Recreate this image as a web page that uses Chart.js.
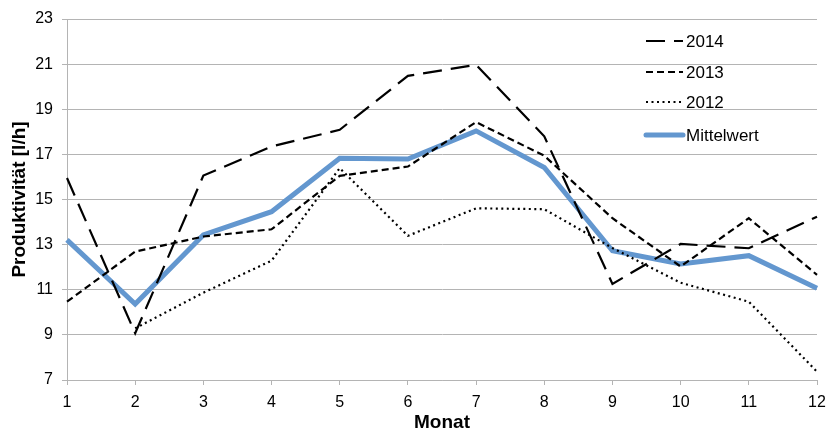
<!DOCTYPE html>
<html>
<head>
<meta charset="utf-8">
<script src="https://cdn.jsdelivr.net/npm/chart.js@4.4.1/dist/chart.umd.min.js"></script>
<style>
  html, body { margin: 0; padding: 0; background: #fff; }
  #wrap { width: 828px; height: 432px; }
</style>
</head>
<body>
<div id="wrap"><canvas id="line-chart-canvas"></canvas></div>
<script>
const months = ['1', '2', '3', '4', '5', '6', '7', '8', '9', '10', '11', '12'];
const values2014 = [15.95, 9.07, 16.06, 17.35, 18.09, 20.48, 20.97, 17.8, 11.26, 13.03, 12.84, 14.24];
const values2013 = [10.47, 12.69, 13.36, 13.68, 16.05, 16.46, 18.43, 16.94, 14.17, 12.03, 14.17, 11.66];
const values2012 = [null, 9.29, 10.87, 12.29, 16.39, 13.39, 14.61, 14.57, 12.85, 11.31, 10.47, 7.37];
const valuesMittel = [13.21, 10.37, 13.43, 14.46, 16.83, 16.79, 18.04, 16.42, 12.73, 12.14, 12.51, 11.07];
const yTicks = [7, 9, 11, 13, 15, 17, 19, 21, 23];

const gridGrey = '#b4b4b4';
const fontName = '"Liberation Sans", Arial, Helvetica, sans-serif';

// legend sits inside the plot, top right, drawn by hand
const insideLegend = {
    id: 'insideLegend',
    afterDraw(chart) {
        const ctx = chart.ctx;
        const rows = [41, 72, 102, 135];
        ctx.save();
        chart.data.datasets.forEach(function(ds, i) {
            const y = rows[i];
            ctx.beginPath();
            ctx.strokeStyle = ds.borderColor;
            ctx.lineWidth = ds.borderWidth;
            ctx.lineCap = ds.borderWidth > 3 ? 'round' : 'butt';
            ctx.setLineDash(ds.borderDash || []);
            ctx.moveTo(646, y);
            ctx.lineTo(683, y);
            ctx.stroke();
            ctx.setLineDash([]);
            ctx.fillStyle = '#000';
            ctx.font = '17px ' + fontName;
            ctx.textAlign = 'left';
            ctx.textBaseline = 'middle';
            ctx.fillText(ds.label, 686, y + 1);
        });
        ctx.restore();
    }
};

function initializeLineChart() {
    const context = document.getElementById('line-chart-canvas');
    const data = {
        labels: months,
        datasets: [
            {
                label: '2014',
                data: values2014,
                borderColor: '#000',
                borderWidth: 2.2,
                borderDash: [19, 9]
            },
            {
                label: '2013',
                data: values2013,
                borderColor: '#000',
                borderWidth: 2.2,
                borderDash: [7, 4]
            },
            {
                label: '2012',
                data: values2012,
                borderColor: '#000',
                borderWidth: 2.2,
                borderDash: [2, 3.5]
            },
            {
                label: 'Mittelwert',
                data: valuesMittel,
                borderColor: '#6397cf',
                borderWidth: 5
            }
        ]
    };
    new Chart(context, {
        type: 'line',
        data: data,
        plugins: [insideLegend],
        options: {
            responsive: true,
            maintainAspectRatio: false,
            animation: false,
            layout: { padding: { top: 19, right: 11, left: 0, bottom: 0 } },
            elements: {
                point: { radius: 0 },
                line: { tension: 0, borderCapStyle: 'butt' }
            },
            plugins: {
                legend: { display: false },
                tooltip: { enabled: false }
            },
            scales: {
                x: {
                    afterFit: function(s) {
                        s.height = 52;
                        s.paddingLeft = 0;
                        s.paddingRight = 0;
                    },
                    grid: { drawOnChartArea: false, drawTicks: true, tickLength: 5, color: gridGrey },
                    border: { color: gridGrey },
                    ticks: { color: '#000', font: { family: fontName, size: 16 }, padding: 8, maxRotation: 0 },
                    title: { display: true, text: 'Monat', color: '#000', font: { family: fontName, size: 19, weight: 'bold', lineHeight: 1.0 }, padding: 0 }
                },
                y: {
                    min: 7,
                    max: 23,
                    afterFit: function(s) { s.width = 67; },
                    afterBuildTicks: function(s) { s.ticks = yTicks.map(v => ({ value: v })); },
                    grid: { color: gridGrey, tickLength: 5 },
                    border: { color: gridGrey },
                    ticks: { color: '#000', font: { family: fontName, size: 16 }, padding: 9 },
                    title: { display: true, text: 'Produktivität [l/h]', color: '#000', font: { family: fontName, size: 19, weight: 'bold' }, padding: 8 }
                }
            }
        }
    });
}

initializeLineChart();
</script>
</body>
</html>
